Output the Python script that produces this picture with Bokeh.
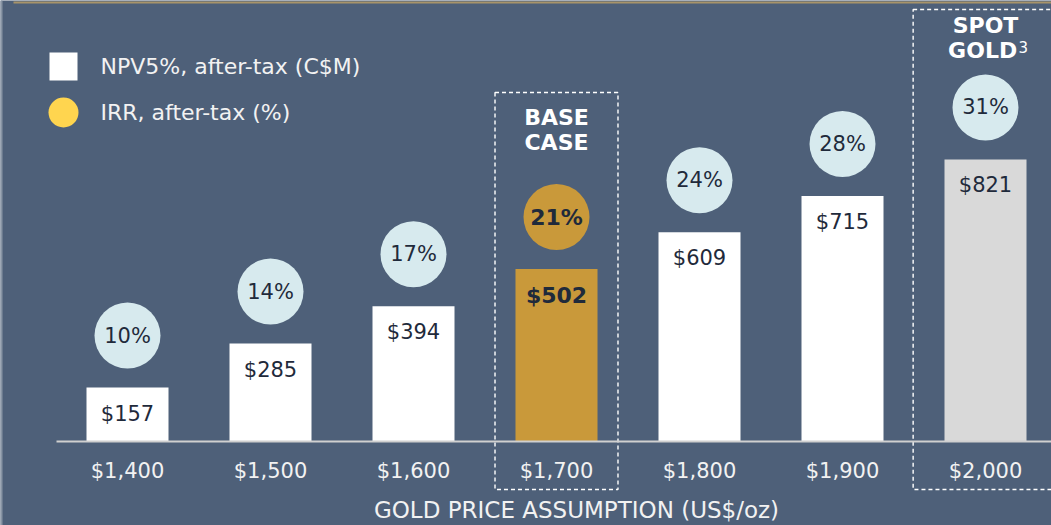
from bokeh.plotting import figure
from bokeh.models import ColumnDataSource, Range1d
from bokeh.embed import file_html
from bokeh.resources import INLINE
from bokeh.core.properties import value, field

# ---- data ----
gold_prices = ["$1,400", "$1,500", "$1,600", "$1,700", "$1,800", "$1,900", "$2,000"]
npv_values = [157, 285, 394, 502, 609, 715, 821]          # NPV5%, after-tax (C$M)
irr_values = [10, 14, 17, 21, 24, 28, 31]                 # IRR, after-tax (%)
scenarios = ["alt", "alt", "alt", "base", "alt", "alt", "spot"]

# ---- styling ----
BG = "#4e6079"
GOLD = "#c9993a"
BAR_COL = {"alt": "#ffffff", "base": GOLD, "spot": "#d9d9d9"}
CIRC_COL = {"alt": "#d7eaee", "base": GOLD, "spot": "#d7eaee"}
DARK = "#1f2a3b"
FONT = value("DejaVu Sans")

W, H = 1051, 525
PX_PER_UNIT = 0.3435      # vertical scale (pixels per C$M)
BASE_PX = 441             # baseline pixel row
X0_PX, STEP_PX = 127, 143 # first category centre, spacing

x_range = Range1d(-X0_PX / STEP_PX, (W - X0_PX) / STEP_PX)
y_range = Range1d(-(H - BASE_PX) / PX_PER_UNIT, BASE_PX / PX_PER_UNIT)

def dx(px):  # pixel column -> data x
    return (px - X0_PX) / STEP_PX

def dy(py):  # pixel row -> data y
    return (BASE_PX - py) / PX_PER_UNIT

def upx(p):  # pixel distance -> data units (y)
    return p / PX_PER_UNIT

idx = list(range(len(gold_prices)))
src = ColumnDataSource(dict(
    x=idx,
    npv=npv_values,
    irr=irr_values,
    bar_color=[BAR_COL[s] for s in scenarios],
    circ_color=[CIRC_COL[s] for s in scenarios],
    npv_label=["$%d" % v for v in npv_values],
    irr_label=["%d%%" % v for v in irr_values],
    circ_y=[v + upx(52) for v in npv_values],
    lab_y=[v - upx(26) for v in npv_values],
    weight=["bold" if s == "base" else "normal" for s in scenarios],
    fsize=["22px" if s == "base" else "21px" for s in scenarios],
    tick=gold_prices,
))

p = figure(width=W, height=H, x_range=x_range, y_range=y_range,
           x_axis_type=None, y_axis_type=None, toolbar_location=None,
           output_backend="svg", min_border=0)
p.background_fill_color = BG
p.border_fill_color = BG
p.outline_line_color = None
p.grid.visible = False

# decorative top rule and left strip
p.segment(x0=dx(13), x1=dx(W + 5), y0=dy(2), y1=dy(2), line_color="#a8946a", line_width=2)
p.segment(x0=dx(1), x1=dx(1), y0=dy(0), y1=dy(H), line_color="#8794a4", line_width=2)

# dashed highlight boxes
base_i = scenarios.index("base")
spot_i = scenarios.index("spot")
p.quad(left=[base_i - 0.43], right=[base_i + 0.43], top=[dy(92)], bottom=[dy(489)],
       fill_alpha=0, line_color="white", line_width=1.4, line_dash="4 3")
p.quad(left=[spot_i - 0.506], right=[spot_i + 0.6], top=[dy(9)], bottom=[dy(489)],
       fill_alpha=0, line_color="white", line_width=1.4, line_dash="4 3")

# bars
p.vbar(x="x", top="npv", bottom=0, width=82 / STEP_PX, source=src,
       fill_color="bar_color", line_color=None)

# baseline
p.segment(x0=dx(56), x1=dx(W + 5), y0=0, y1=0, line_color="#d0d0d0", line_width=2)

# IRR circles
p.scatter(x="x", y="circ_y", size=66, marker="circle", source=src,
          fill_color="circ_color", line_color=None)

# labels in circles
p.text(x="x", y="circ_y", text="irr_label", source=src, text_align="center",
       text_baseline="middle", text_font=FONT, text_font_size=field("fsize"),
       text_color=DARK, text_font_style=field("weight"))

# labels in bars
p.text(x="x", y="lab_y", text="npv_label", source=src, text_align="center",
       text_baseline="middle", text_font=FONT, text_font_size=field("fsize"),
       text_color=DARK, text_font_style=field("weight"))

# category tick labels
p.text(x="x", y=dy(470), text="tick", source=src, text_align="center",
       text_baseline="middle", text_font=FONT, text_font_size="21px",
       text_color="#f2f2f2")

# axis title
p.text(x=[dx(576)], y=[dy(509)], text=["GOLD PRICE ASSUMPTION (US$/oz)"],
       text_align="center", text_baseline="middle", text_font=FONT,
       text_font_size="23px", text_color="#f2f2f2")

# box headings
p.text(x=[base_i, base_i], y=[dy(117), dy(142)], text=["BASE", "CASE"],
       text_align="center", text_baseline="middle", text_font=FONT,
       text_font_size="22px", text_font_style="bold", text_color="white")
p.text(x=[spot_i, spot_i - 0.02], y=[dy(25), dy(50)], text=["SPOT", "GOLD"],
       text_align="center", text_baseline="middle", text_font=FONT,
       text_font_size="22px", text_font_style="bold", text_color="white")
p.text(x=[dx(1018)], y=[dy(46)], text=["3"], text_align="left",
       text_baseline="middle", text_font=FONT, text_font_size="15px",
       text_color="white")

# legend
p.scatter(x=[dx(63)], y=[dy(66)], marker="square", size=28,
          fill_color="white", line_color=None)
p.scatter(x=[dx(63)], y=[dy(112)], marker="circle", size=30,
          fill_color="#ffd54f", line_color=None)
p.text(x=[dx(100), dx(100)], y=[dy(66), dy(112)],
       text=["NPV5%, after-tax (C$M)", "IRR, after-tax (%)"],
       text_align="left", text_baseline="middle", text_font=FONT,
       text_font_size="22px", text_color="#f2f2f2")

open("out.html", "w").write(file_html(p, INLINE))
